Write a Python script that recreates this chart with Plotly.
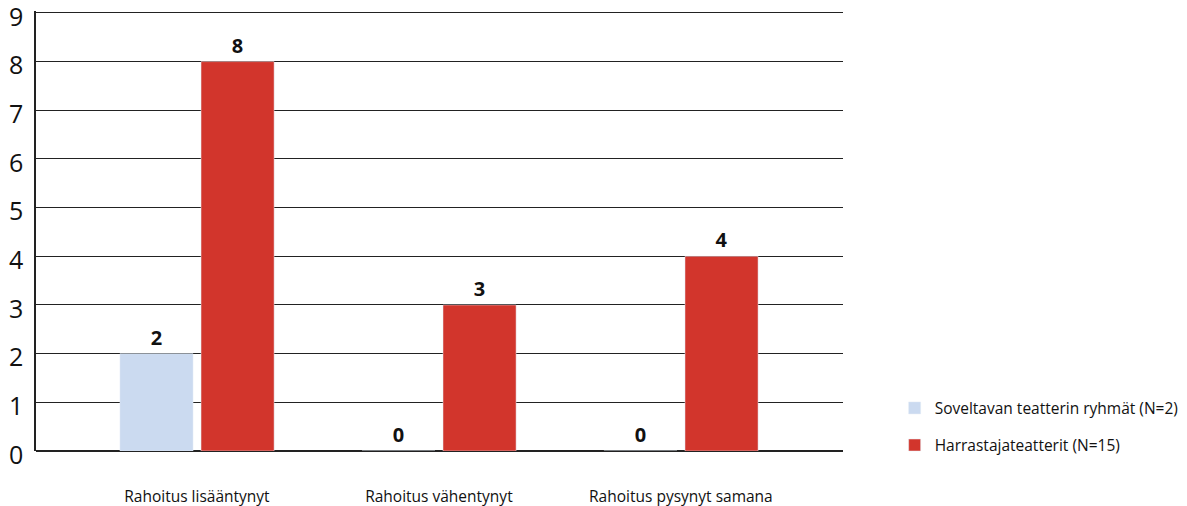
import plotly.graph_objects as go

categories = ["Rahoitus lisääntynyt", "Rahoitus vähentynyt", "Rahoitus pysynyt samana"]
soveltava = [2, 0, 0]
harrastaja = [8, 3, 4]
series_names = ["Soveltavan teatterin ryhmät (N=2)", "Harrastajateatterit (N=15)"]
y_ticks = list(range(0, 10))

x_idx = list(range(len(categories)))

label_font = dict(family="Open Sans", size=20, color="#111111", weight="bold")

fig = go.Figure()
fig.add_trace(go.Bar(
    x=x_idx, y=soveltava, name=series_names[0], marker_color="#cbdaf0",
    width=0.302, offset=-0.318, text=[str(v) for v in soveltava],
    textposition="outside", cliponaxis=False, textfont=label_font,
    legendgroup="a",
))
fig.add_trace(go.Bar(
    x=x_idx, y=harrastaja, name=series_names[1], marker_color="#d2352c",
    width=0.302, offset=0.017, text=[str(v) for v in harrastaja],
    textposition="outside", cliponaxis=False, textfont=label_font,
    legendgroup="b",
))

fig.update_layout(
    width=1187, height=506,
    margin=dict(l=36, r=344, t=11, b=55, autoexpand=False),
    plot_bgcolor="white", paper_bgcolor="white",
    font=dict(family="Open Sans", color="#111111"),
    barmode="overlay",
    showlegend=True,
    legend=dict(
        x=1.064, y=0.055, xanchor="left", yanchor="middle",
        font=dict(size=15.5, family="Open Sans", color="#111111"),
        traceorder="grouped", tracegroupgap=14,
        itemwidth=30,
    ),
    xaxis=dict(
        range=[-0.665, 2.67], tickvals=x_idx, ticktext=categories,
        showgrid=False, zeroline=False, showline=False, ticks="",
        tickfont=dict(size=15.5, family="Open Sans", color="#111111"),
        ticklabelstandoff=34, automargin=False,
    ),
    yaxis=dict(
        range=[0, 9.04], tickvals=y_ticks, showgrid=True, gridcolor="#222222", gridwidth=1,
        zeroline=True, zerolinecolor="#222222", zerolinewidth=1.5,
        showline=True, linecolor="#222222", linewidth=1.5, ticks="",
        tickfont=dict(size=25, family="Open Sans", color="#111111"),
        ticklabelstandoff=6, ticklabelshift=4, ticklabeloverflow="allow",
        automargin=False,
    ),
)

fig.write_html(
    "out.html",
    config={"displayModeBar": False},
    post_script="document.body.style.margin='0px';document.body.style.overflow='hidden';",
)
